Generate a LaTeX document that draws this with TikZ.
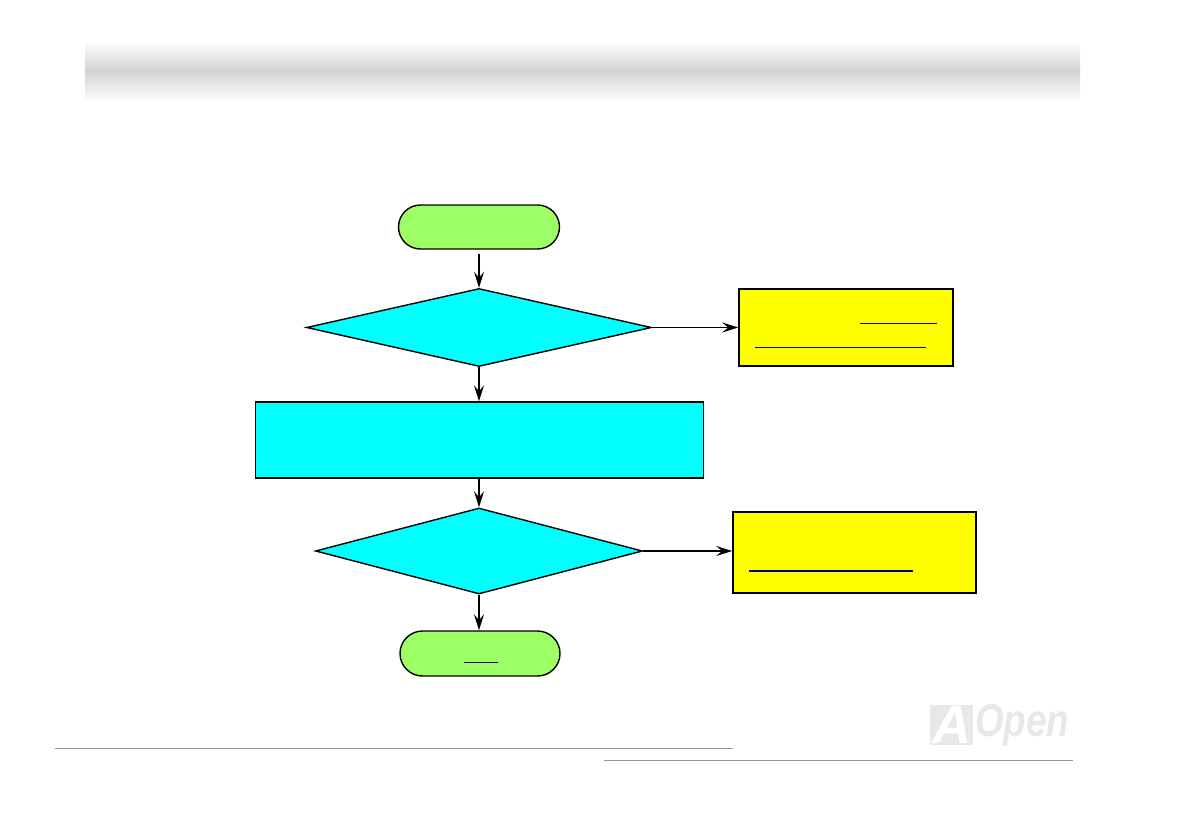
\documentclass[tikz,border=0pt]{standalone}
\usepackage{xcolor}
\usepackage{fontspec}
\setmainfont{Liberation Sans}
\usetikzlibrary{positioning,arrows.meta,calc,shapes.geometric,shapes.misc}
\definecolor{cyanbox}{RGB}{0,255,255}
\definecolor{yellowbox}{RGB}{255,255,0}
\definecolor{greenbox}{RGB}{156,255,102}
\definecolor{linkblue}{RGB}{0,0,150}
\definecolor{rulegray}{RGB}{150,150,150}
\definecolor{logogray}{RGB}{232,232,232}
\tikzset{
    terminal/.style={draw=black, fill=greenbox, rounded rectangle, line width=1.4pt, minimum height=44pt, inner sep=0pt},
    decision/.style={draw=black, fill=cyanbox, diamond, line width=1.4pt, inner sep=0pt},
    process/.style={draw=black, fill=cyanbox, line width=1.4pt, inner sep=0pt},
    note/.style={draw=black, fill=yellowbox, line width=1.6pt, inner sep=0pt},
    arrow/.style={-{Stealth[length=16pt, width=10pt, inset=6pt]}, line width=1.4pt, draw=black},
    link/.style={draw=linkblue, line width=0.9pt},
    footrule/.style={draw=rulegray, line width=1pt}
}
\begin{document}
\begin{tikzpicture}[x=1pt,y=-1pt]
\useasboundingbox (0,0) rectangle (1190,821);
% header band
\shade[top color=white, bottom color=white, middle color=black!17] (85,40) rectangle (1080,102);
% flow
\node[terminal, minimum width=161pt] (start) at (479,227) {};
\node[decision, minimum width=345pt, minimum height=78pt, aspect=4.42] (check1) at (479,327.5) {};
\node[process, minimum width=448pt, minimum height=76pt] (setup) at (479.5,440) {};
\node[decision, minimum width=327pt, minimum height=86pt, aspect=3.8] (check2) at (479,551) {};
\node[terminal, minimum width=160pt, minimum height=45pt] (finish) at (480,653.5) {};
\node[note, minimum width=214pt, minimum height=77pt] (note1) at (846,327.5) {};
\node[note, minimum width=243pt, minimum height=81pt] (note2) at (854.5,552.5) {};
\draw[arrow, shorten <=4pt] (start.south -| check1.north) -- (check1.north);
\draw[arrow] (check1.south) -- (setup.north -| check1.south);
\draw[arrow] (setup.south -| check2.north) -- (check2.north);
\draw[arrow] (check2.south) -- (finish.north -| check2.south);
\draw[arrow] (check1.east) -- (note1.west |- check1.east);
\draw[arrow] (check2.east) -- (note2.west |- check2.east);
% links
\draw[link] (860,323) -- (937,323);
\draw[link] (755,347) -- (926,347);
\draw[link, line width=1.7pt] (749,571) -- (913,571);
\draw[link] (464,662) -- (498,662);
% footer
\draw[footrule] (55,748) -- (733,748);
\draw[footrule] (604,760) -- (1073,760);
% logo
\node[fill=logogray, minimum width=43pt, minimum height=40pt, inner sep=0pt, text=white, font=\bfseries\itshape\fontsize{54}{54}\selectfont] (logoA) at (951.5,725) {A};
\node[anchor=west, inner sep=0pt, xscale=0.8, transform shape, text=logogray, font=\bfseries\itshape\fontsize{46}{46}\selectfont] (logoOpen) at (975,725) {Open};
\end{tikzpicture}
\end{document}
